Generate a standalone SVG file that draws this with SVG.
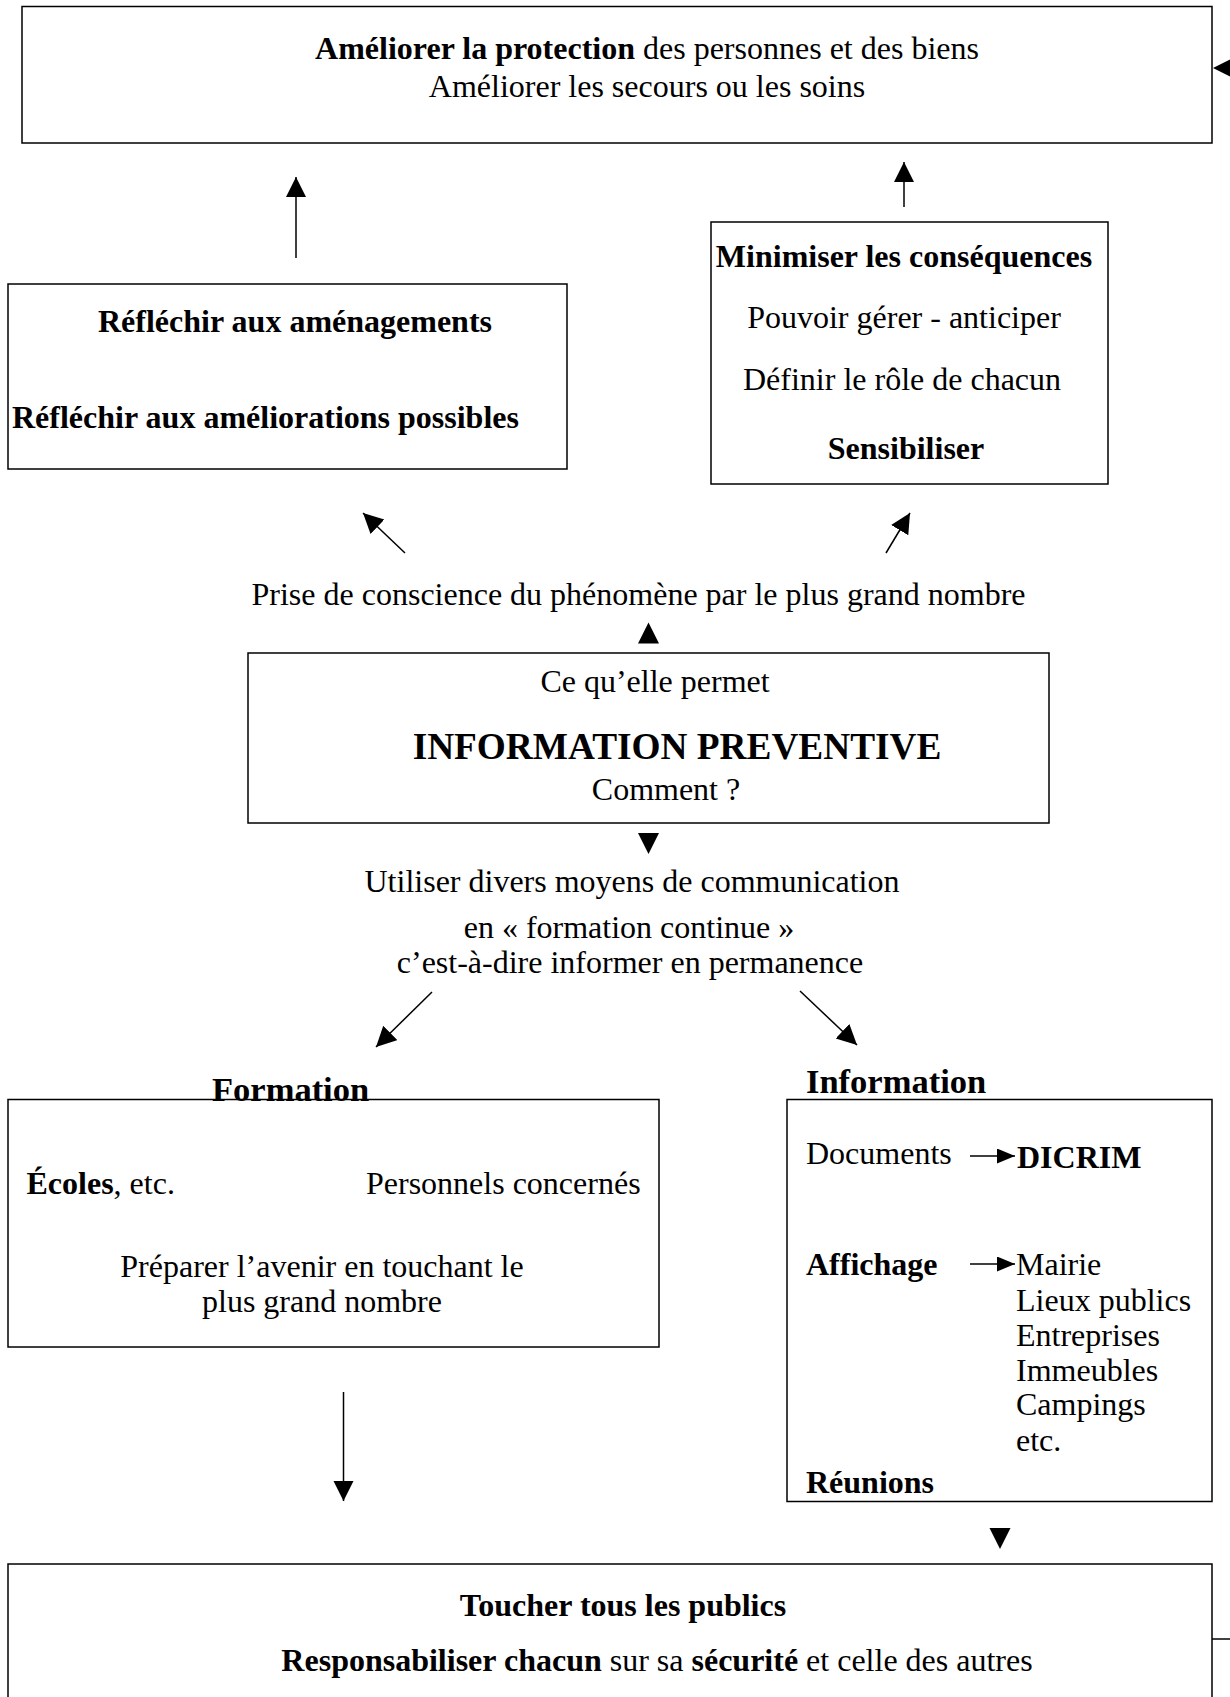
<svg xmlns="http://www.w3.org/2000/svg" width="1230" height="1697" viewBox="0 0 1230 1697">
<style>
.box{fill:#fff;stroke:#000;stroke-width:1.5}
.t{font-family:"Liberation Serif","Times New Roman",serif;font-size:32px;fill:#000}
.c{text-anchor:middle}
.b{font-weight:bold}
.h{font-size:34.5px;font-weight:bold}
.big{font-size:37.3px;font-weight:bold}
.ln{stroke:#000;stroke-width:1.5;fill:none}
.arr{marker-end:url(#ah)}
.sarr{marker-end:url(#sah)}
</style>
<defs>
<marker id="ah" markerUnits="userSpaceOnUse" viewBox="0 0 22 22" markerWidth="22" markerHeight="22" refX="20" refY="10" orient="auto"><path d="M0,0 L20,10 L0,20 z" fill="#000"/></marker>
<marker id="sah" markerUnits="userSpaceOnUse" viewBox="0 0 20 16" markerWidth="20" markerHeight="16" refX="18" refY="7.5" orient="auto"><path d="M0,0 L18,7.5 L0,15 z" fill="#000"/></marker>
</defs>
<rect width="1230" height="1697" fill="#fff"/>

<g id="top">
<rect class="box" x="22" y="6.5" width="1190" height="136.5"/>
<text class="t c" x="647" y="59">
<tspan class="b">Améliorer la protection</tspan> des personnes et des biens</text>
<text class="t c" x="647" y="97">Améliorer les secours ou les soins</text>
</g>

<g id="reflechir">
<rect class="box" x="8" y="284" width="559" height="185"/>
<text class="t c b" x="295" y="332">Réfléchir aux aménagements</text>
<text class="t b" x="12" y="428">Réfléchir aux améliorations possibles</text>
</g>

<g id="minimiser">
<rect class="box" x="711" y="222" width="397" height="262"/>
<text class="t c b" x="904" y="267">Minimiser les conséquences</text>
<text class="t c" x="904" y="328">Pouvoir gérer - anticiper</text>
<text class="t c" x="902" y="390">Définir le rôle de chacun</text>
<text class="t c b" x="906" y="459">Sensibiliser</text>
</g>

<g id="prise">
<text class="t c" x="638.5" y="605">Prise de conscience du phénomène par le plus grand nombre</text>
</g>

<g id="info-prev">
<rect class="box" x="248" y="653" width="801" height="170"/>
<text class="t c" x="655" y="692">Ce qu’elle permet</text>
<text class="t c big" x="677" y="759">INFORMATION PREVENTIVE</text>
<text class="t c" x="666" y="800">Comment ?</text>
</g>

<g id="moyens">
<text class="t c" x="632" y="892">Utiliser divers moyens de communication</text>
<text class="t c" x="629" y="938">en « formation continue »</text>
<text class="t c" x="630" y="973">c’est-à-dire informer en permanence</text>
</g>

<g id="formation">
<rect class="box" x="8" y="1099.5" width="651" height="247.5"/>
<text class="t h" x="212" y="1101">Formation</text>
<text class="t" x="26.5" y="1194"><tspan class="b">Écoles</tspan>, etc.</text>
<text class="t" x="366" y="1194">Personnels concernés</text>
<text class="t c" x="322" y="1277">Préparer l’avenir en touchant le</text>
<text class="t c" x="322" y="1312">plus grand nombre</text>
</g>

<g id="information">
<rect class="box" x="787" y="1099.5" width="425" height="402"/>
<text class="t h" x="806" y="1093">Information</text>
<text class="t" x="806" y="1164">Documents</text>
<text class="t b" x="1017" y="1168">DICRIM</text>
<text class="t b" x="806" y="1275">Affichage</text>
<text class="t" x="1016" y="1275">Mairie</text>
<text class="t" x="1016" y="1311">Lieux publics</text>
<text class="t" x="1016" y="1346">Entreprises</text>
<text class="t" x="1016" y="1381">Immeubles</text>
<text class="t" x="1016" y="1415">Campings</text>
<text class="t" x="1016" y="1451">etc.</text>
<text class="t b" x="806" y="1493">Réunions</text>
</g>

<g id="publics">
<rect class="box" x="8" y="1564" width="1204" height="150"/>
<text class="t c b" x="623" y="1616">Toucher tous les publics</text>
<text class="t c" x="657" y="1671"><tspan class="b">Responsabiliser chacun</tspan> sur sa <tspan class="b">sécurité</tspan> et celle des autres</text>
</g>

<g id="connectors">
<line class="ln arr" x1="296" y1="258" x2="296" y2="177"/>
<line class="ln arr" x1="904" y1="207" x2="904" y2="162"/>
<line class="ln arr" x1="405" y1="553" x2="363" y2="513"/>
<line class="ln arr" x1="886" y1="553" x2="910" y2="513"/>
<polygon points="648.5,622.5 638,643.5 659,643.5" fill="#000"/>
<polygon points="638,833 659,833 648.5,854" fill="#000"/>
<line class="ln arr" x1="432" y1="992" x2="376" y2="1047"/>
<line class="ln arr" x1="800" y1="991" x2="857" y2="1045"/>
<line class="ln sarr" x1="970" y1="1156" x2="1015" y2="1156"/>
<line class="ln sarr" x1="970" y1="1264" x2="1015" y2="1264"/>
<line class="ln arr" x1="343.5" y1="1392" x2="343.5" y2="1501"/>
<polygon points="989.5,1528 1010.5,1528 1000,1549" fill="#000"/>
<line class="ln" x1="1212" y1="1639" x2="1232" y2="1639"/>
<polygon points="1213,68 1232,58.5 1232,77.5" fill="#000"/>
</g>
</svg>
